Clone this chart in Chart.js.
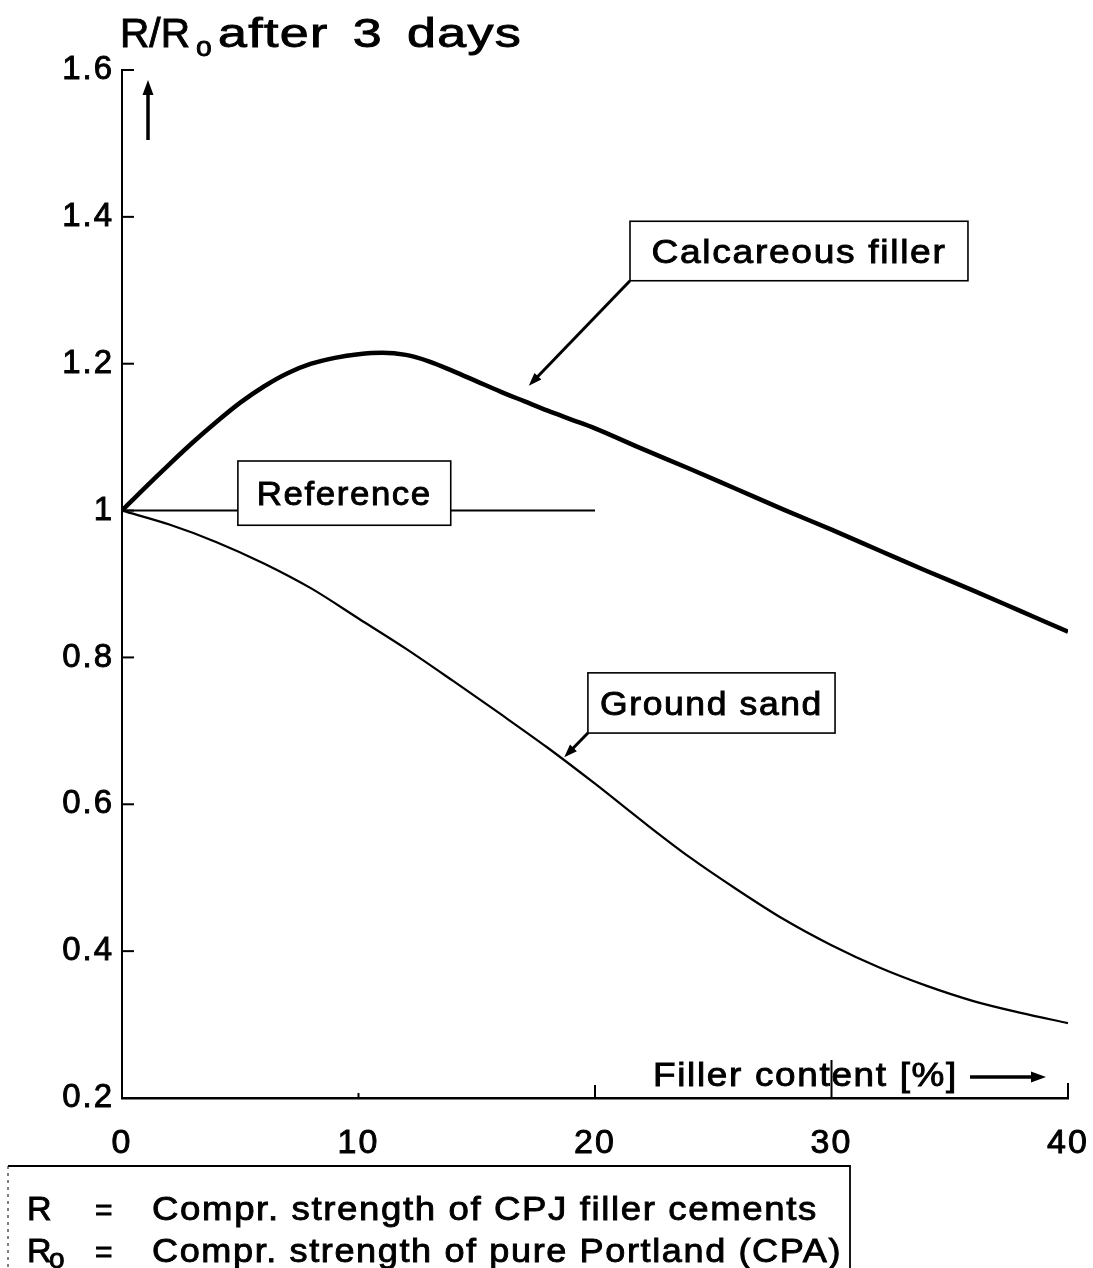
<!DOCTYPE html>
<html>
<head>
<meta charset="utf-8">
<script src="https://cdn.jsdelivr.net/npm/chart.js@4.4.1/dist/chart.umd.min.js"></script>
<style>
  html, body { margin: 0; padding: 0; background: #fff; }
  #wrap { width: 1093px; height: 1268px; position: relative; }
</style>
</head>
<body>
<div id="wrap"><canvas id="myChart"></canvas></div>
<script>
// values (filler content in %, R/Ro)
const calcX = [0, 1, 2, 3, 4, 5, 6, 7, 8, 9, 10, 11, 12, 13, 14, 15, 16, 17, 18, 19, 20, 22, 24, 26, 28, 30, 32, 34, 36, 38, 40];
const calcY = [1.000, 1.032, 1.063, 1.093, 1.121, 1.147, 1.169, 1.187, 1.200, 1.208, 1.213, 1.215, 1.212, 1.203, 1.190, 1.176, 1.162, 1.149, 1.136, 1.124, 1.112, 1.084, 1.057, 1.029, 1.001, 0.974, 0.946, 0.918, 0.891, 0.863, 0.835];
const sandX = [0, 2, 4, 6, 8, 10, 12, 14, 16, 18, 20, 22, 24, 26, 28, 30, 32, 34, 36, 38, 40];
const sandY = [1.000, 0.981, 0.957, 0.928, 0.894, 0.853, 0.812, 0.768, 0.723, 0.677, 0.628, 0.577, 0.528, 0.484, 0.443, 0.408, 0.378, 0.353, 0.332, 0.316, 0.302];
const refX = [0, 20];
const refY = [1, 1];

const xTicks = [0, 10, 20, 30, 40];
const yTicks = [0.2, 0.4, 0.6, 0.8, 1.0, 1.2, 1.4, 1.6];
const seriesNames = ['Calcareous filler', 'Reference', 'Ground sand'];
const yTitle = ['R/R', 'o', 'after 3 days'];
const xTitle = 'Filler content [%]';
const notes = [
  ['R', '', '=', 'Compr. strength of CPJ filler cements'],
  ['R', 'o', '=', 'Compr. strength of pure Portland (CPA)']
];

const FONT = "'Liberation Sans', Arial, Helvetica, sans-serif";
const pts = (xs, ys) => xs.map((x, i) => ({ x: x, y: ys[i] }));

// text in the slightly wide, heavy face of the print.
// o.width: fit to this width; o.stretch + o.width: keep stretch, spread the words
function printText(ctx, text, x, y, o) {
  ctx.save();
  ctx.font = o.size + 'px ' + FONT;
  ctx.letterSpacing = (o.ls || 0) + 'px';
  let sx = o.stretch || 1.1;
  let w0 = ctx.measureText(text).width;
  if (o.width && o.stretch) {
    const gaps = text.split(' ').length - 1;
    if (gaps) {
      ctx.wordSpacing = ((o.width / sx - w0) / gaps) + 'px';
      w0 = ctx.measureText(text).width;
    }
  } else if (o.width) {
    sx = o.width / w0;
  }
  const w = w0 * sx;
  let left = x;
  if (o.align === 'center') left = x - w / 2;
  ctx.translate(left, y);
  ctx.scale(sx, 1);
  ctx.fillStyle = '#000';
  ctx.strokeStyle = '#000';
  ctx.lineWidth = 0.9;
  ctx.textAlign = 'left';
  ctx.textBaseline = 'alphabetic';
  ctx.fillText(text, 0, 0);
  ctx.strokeText(text, 0, 0);
  ctx.restore();
  return left + w;
}

function arrow(ctx, x1, y1, x2, y2, lw, head) {
  const a = Math.atan2(y2 - y1, x2 - x1);
  ctx.save();
  ctx.strokeStyle = '#000';
  ctx.fillStyle = '#000';
  ctx.lineWidth = lw;
  ctx.beginPath();
  ctx.moveTo(x1, y1);
  ctx.lineTo(x2 - Math.cos(a) * head * 0.8, y2 - Math.sin(a) * head * 0.8);
  ctx.stroke();
  ctx.beginPath();
  ctx.moveTo(x2, y2);
  ctx.lineTo(x2 - head * Math.cos(a - 0.35), y2 - head * Math.sin(a - 0.35));
  ctx.lineTo(x2 - head * Math.cos(a + 0.35), y2 - head * Math.sin(a + 0.35));
  ctx.closePath();
  ctx.fill();
  ctx.restore();
}

// label boxes, in data units
const boxes = [
  { text: seriesNames[0], x0: 21.48, x1: 35.77, y0: 1.394, y1: 1.313, tw: 295, tip: [17.2, 1.17] },
  { text: seriesNames[1], x0: 4.9, x1: 13.9, y0: 1.0675, y1: 0.980, tw: 175 },
  { text: seriesNames[2], x0: 19.7, x1: 30.15, y0: 0.779, y1: 0.697, tw: 223, tip: [18.7, 0.664] }
];

const spacing = {
  id: 'spacing',
  beforeLayout(chart) { chart.ctx.letterSpacing = '2px'; },
  beforeDraw(chart) { chart.ctx.letterSpacing = '2px'; }
};

const decor = {
  id: 'decor',
  afterDraw(chart) {
    const ctx = chart.ctx;
    const xs = chart.scales.x, ys = chart.scales.y;
    const area = chart.chartArea;
    ctx.save();
    ctx.letterSpacing = '0px';
    ctx.strokeStyle = '#000';

    // inward tick marks
    ctx.lineWidth = 2;
    yTicks.forEach(v => {
      const y = ys.getPixelForValue(v);
      ctx.beginPath(); ctx.moveTo(area.left, y); ctx.lineTo(area.left + 12, y); ctx.stroke();
    });
    const xLen = [0, 5, 13, 38, 15];
    xTicks.forEach((v, i) => {
      const x = xs.getPixelForValue(v);
      ctx.beginPath(); ctx.moveTo(x, area.bottom); ctx.lineTo(x, area.bottom - xLen[i]); ctx.stroke();
    });

    // label boxes with arrows
    boxes.forEach(b => {
      const l = xs.getPixelForValue(b.x0), r = xs.getPixelForValue(b.x1);
      const t = ys.getPixelForValue(b.y0), bt = ys.getPixelForValue(b.y1);
      ctx.fillStyle = '#fff';
      ctx.fillRect(l, t, r - l, bt - t);
      ctx.lineWidth = 1.6;
      ctx.strokeRect(l, t, r - l, bt - t);
      printText(ctx, b.text, (l + r) / 2, (t + bt) / 2 + 12, { size: 33, width: b.tw, align: 'center', ls: 1.5 });
      if (b.tip) {
        arrow(ctx, l, bt, xs.getPixelForValue(b.tip[0]), ys.getPixelForValue(b.tip[1]), 3, 14);
      }
    });

    // y axis title and arrow
    printText(ctx, yTitle[0], 120, 47, { size: 40, width: 70 });
    printText(ctx, yTitle[1], 196, 56, { size: 27, stretch: 1.05 });
    printText(ctx, yTitle[2], 218, 47, { size: 40, width: 304, stretch: 1.3, ls: 1 });
    arrow(ctx, area.left + 26, area.top + 70, area.left + 26, area.top + 10, 3.5, 16);

    // x axis title and arrow
    printText(ctx, xTitle, 653, area.bottom - 12, { size: 33, width: 305, ls: 1.5 });
    arrow(ctx, 970, area.bottom - 21, 1046, area.bottom - 21, 3.5, 16);

    // footnote box
    ctx.lineWidth = 1.8;
    ctx.beginPath();
    ctx.moveTo(8, 1166); ctx.lineTo(850, 1166); ctx.lineTo(850, 1268);
    ctx.stroke();
    ctx.lineWidth = 1;
    ctx.setLineDash([3, 4]);
    ctx.beginPath(); ctx.moveTo(8, 1166); ctx.lineTo(8, 1268); ctx.stroke();
    ctx.setLineDash([]);
    const noteW = [666, 690];
    notes.forEach((n, i) => {
      const base = 1220 + i * 42;
      printText(ctx, n[0], 27, base, { size: 34, stretch: 1.0 });
      if (n[1]) printText(ctx, n[1], 49, base + 6, { size: 28, stretch: 1.0 });
      printText(ctx, n[2], 95, base, { size: 30, stretch: 1.0 });
      printText(ctx, n[3], 152, base, { size: 34, width: noteW[i], ls: 1.5 });
    });
    ctx.restore();
  }
};

const data = {
  datasets: [
    { label: seriesNames[0], data: pts(calcX, calcY), borderColor: '#000', borderWidth: 4.5, pointRadius: 0, cubicInterpolationMode: 'monotone', fill: false },
    { label: seriesNames[1], data: pts(refX, refY), borderColor: '#000', borderWidth: 2, pointRadius: 0, fill: false },
    { label: seriesNames[2], data: pts(sandX, sandY), borderColor: '#000', borderWidth: 2.2, pointRadius: 0, cubicInterpolationMode: 'monotone', fill: false }
  ]
};

const tickStyle = { color: '#000', textStrokeColor: '#000', textStrokeWidth: 0.9 };

const config = {
  type: 'line',
  data: data,
  options: {
    responsive: true,
    maintainAspectRatio: false,
    animation: false,
    layout: { padding: { top: 70, right: 25, left: 0, bottom: 0 } },
    plugins: { legend: { display: false }, tooltip: { enabled: false } },
    scales: {
      x: {
        type: 'linear', min: 0, max: 40,
        afterBuildTicks: s => { s.ticks = xTicks.map(v => ({ value: v })); },
        afterFit: s => { s.height = 170; s.paddingLeft = 0; s.paddingRight = 0; },
        grid: { display: false, drawTicks: false },
        border: { display: true, color: '#000', width: 2.5 },
        ticks: Object.assign({ font: { family: FONT, size: 34 }, padding: 25, maxRotation: 0 }, tickStyle)
      },
      y: {
        type: 'linear', min: 0.2, max: 1.6,
        afterBuildTicks: s => { s.ticks = yTicks.map(v => ({ value: v })); },
        afterFit: s => { s.width = 122; s.paddingTop = 0; s.paddingBottom = 0; },
        grid: { display: false, drawTicks: false },
        border: { display: true, color: '#000', width: 2 },
        ticks: Object.assign({ font: { family: FONT, size: 33 }, padding: 8, callback: v => String(+v.toFixed(1)) }, tickStyle)
      }
    }
  },
  plugins: [spacing, decor]
};

const myChart = new Chart(document.getElementById('myChart'), config);
</script>
</body>
</html>
